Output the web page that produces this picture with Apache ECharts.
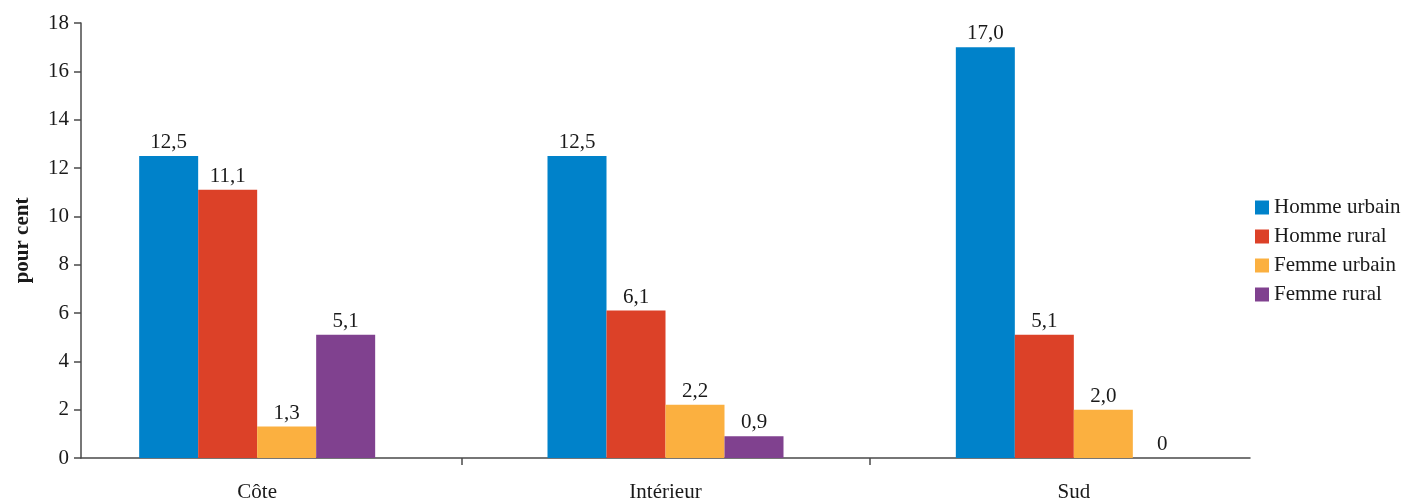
<!DOCTYPE html>
<html>
<head>
<meta charset="utf-8">
<script src="https://cdn.jsdelivr.net/npm/echarts@6/dist/echarts.min.js"></script>
<style>
html,body{margin:0;padding:0;background:#fff;}
#chart{width:1418px;height:501px;}
</style>
</head>
<body>
<div id="chart"></div>
<script>
// Regions and series
const categories = ['Côte', 'Intérieur', 'Sud'];
const seriesNames = ['Homme urbain', 'Homme rural', 'Femme urbain', 'Femme rural'];
const hommeUrbain = [12.5, 12.5, 17.0];
const hommeRural = [11.1, 6.1, 5.1];
const femmeUrbain = [1.3, 2.2, 2.0];
const femmeRural = [5.1, 0.9, 0];
const colors = ['#0082CA', '#DC4128', '#FBB040', '#80418F'];

const FONT = '"Liberation Serif", "DejaVu Serif", serif';
const TXT = '#1a1a1a';
const AXIS = '#4a4a4a';

const fmt = v => {
  const n = v.value;
  return n === 0 ? '0' : n.toFixed(1).replace('.', ',');
};

const values = [hommeUrbain, hommeRural, femmeUrbain, femmeRural];

const chart = echarts.init(document.getElementById('chart'));
chart.setOption({
  backgroundColor: '#fff',
  animation: false,
  color: colors,
  legend: {
    orient: 'vertical',
    left: 1250,
    top: 192,
    itemWidth: 14,
    itemHeight: 14,
    itemGap: 8,
    icon: 'rect',
    textStyle: { fontFamily: FONT, fontSize: 21, color: TXT },
    data: seriesNames
  },
  grid: [
    // axis frame
    { left: 81, right: 168, top: 23, bottom: 43, outerBoundsMode: 'none' },
    // bars
    { left: 53, right: 140, top: 23, bottom: 43, outerBoundsMode: 'none' },
    // small strip below the baseline for category separators
    { left: 53, right: 140, top: 458, bottom: 36, outerBoundsMode: 'none' }
  ],
  xAxis: [
    {
      gridIndex: 0, type: 'category', data: categories,
      axisLine: { lineStyle: { color: AXIS, width: 1.5 } },
      axisTick: { show: false }, axisLabel: { show: false }
    },
    {
      gridIndex: 1, type: 'category', data: categories,
      axisLine: { show: false }, axisTick: { show: false },
      axisLabel: { margin: 24, fontFamily: FONT, fontSize: 21, color: TXT }
    },
    {
      gridIndex: 2, type: 'category', data: categories,
      axisLine: { show: false }, axisTick: { show: false }, axisLabel: { show: false },
      splitLine: { show: true, showMinLine: false, showMaxLine: false, lineStyle: { color: AXIS, width: 1.5 } }
    }
  ],
  yAxis: [
    {
      gridIndex: 0, type: 'value', min: 0, max: 18, interval: 2,
      name: 'pour cent', nameLocation: 'middle', nameGap: 48, nameRotate: 90,
      nameTextStyle: { fontFamily: FONT, fontSize: 21, fontWeight: 'bold', color: TXT },
      axisLine: { show: true, lineStyle: { color: AXIS, width: 1.5 } },
      axisTick: { show: true, length: 7, lineStyle: { color: AXIS, width: 1.5 } },
      axisLabel: { margin: 12, fontFamily: FONT, fontSize: 21, color: TXT },
      splitLine: { show: false }
    },
    {
      gridIndex: 1, type: 'value', min: 0, max: 18, interval: 2, show: false
    },
    {
      gridIndex: 2, type: 'value', min: 0, max: 1, show: false
    }
  ],
  series: seriesNames.map((name, i) => ({
    name,
    type: 'bar',
    xAxisIndex: 1,
    yAxisIndex: 1,
    data: values[i],
    barWidth: 59,
    barGap: '0%',
    itemStyle: { color: colors[i] },
    label: {
      show: true, position: 'top', distance: 3,
      formatter: fmt,
      fontFamily: FONT, fontSize: 21, color: TXT
    }
  }))
});
</script>
</body>
</html>
